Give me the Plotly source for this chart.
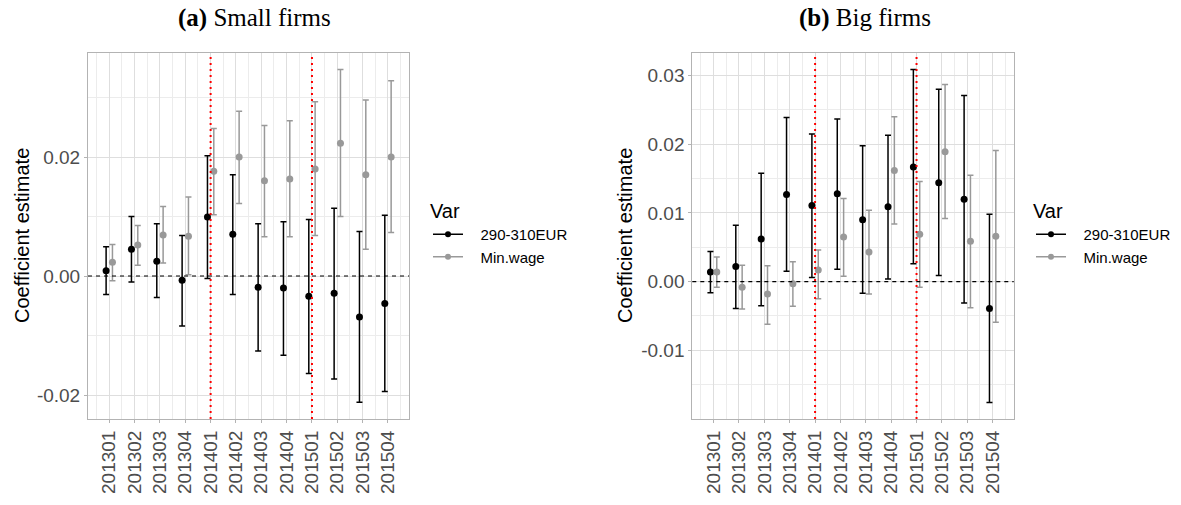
import plotly.graph_objects as go
import numpy as np

quarters = ["201301", "201302", "201303", "201304", "201401", "201402",
            "201403", "201404", "201501", "201502", "201503", "201504"]
series_names = ["290-310EUR", "Min.wage"]

# Panel (a) Small firms
small_eur_est = [0.0009, 0.0045, 0.0025, -0.0007, 0.0099, 0.0070, -0.0019, -0.0020, -0.0034, -0.0029, -0.0069, -0.0046]
small_eur_hi = [0.0049, 0.0100, 0.0088, 0.0068, 0.0202, 0.0170, 0.0088, 0.0091, 0.0095, 0.0114, 0.0075, 0.0102]
small_eur_lo = [-0.0031, -0.0010, -0.0036, -0.0084, -0.0004, -0.0031, -0.0126, -0.0133, -0.0164, -0.0173, -0.0212, -0.0194]
small_mw_est = [0.0023, 0.0052, 0.0069, 0.0067, 0.0176, 0.0200, 0.0160, 0.0163, 0.0180, 0.0223, 0.0170, 0.0200]
small_mw_hi = [0.0053, 0.0085, 0.0117, 0.0133, 0.0248, 0.0277, 0.0253, 0.0261, 0.0293, 0.0347, 0.0296, 0.0328]
small_mw_lo = [-0.0008, 0.0018, 0.0022, 0.0002, 0.0103, 0.0122, 0.0066, 0.0066, 0.0068, 0.0100, 0.0045, 0.0073]

# Panel (b) Big firms
big_eur_est = [0.0014, 0.0022, 0.0062, 0.0127, 0.0111, 0.0128, 0.0090, 0.0109, 0.0167, 0.0144, 0.0120, -0.0039]
big_eur_hi = [0.0044, 0.0082, 0.0158, 0.0239, 0.0215, 0.0237, 0.0198, 0.0213, 0.0309, 0.0280, 0.0271, 0.0098]
big_eur_lo = [-0.0016, -0.0039, -0.0035, 0.0015, 0.0006, 0.0018, -0.0017, 0.0004, 0.0026, 0.0009, -0.0031, -0.0176]
big_mw_est = [0.0014, -0.0008, -0.0018, -0.0003, 0.0017, 0.0065, 0.0043, 0.0162, 0.0069, 0.0189, 0.0059, 0.0066]
big_mw_hi = [0.0036, 0.0024, 0.0023, 0.0029, 0.0046, 0.0121, 0.0104, 0.0240, 0.0146, 0.0287, 0.0155, 0.0191]
big_mw_lo = [-0.0008, -0.0040, -0.0062, -0.0036, -0.0025, 0.0008, -0.0018, 0.0084, -0.0008, 0.0092, -0.0038, -0.0059]

break_quarters = ["201401", "201501"]

W, H = 1181, 505
BLACK = "#000000"
GREY = "#999999"
DODGE = 0.125
pos = np.arange(1, len(quarters) + 1)
PAD = "\u00a0\u00a0\u00a0"

fig = go.Figure()

panels = [
    ("x", "y", "legend", [(small_eur_est, small_eur_hi, small_eur_lo), (small_mw_est, small_mw_hi, small_mw_lo)]),
    ("x2", "y2", "legend2", [(big_eur_est, big_eur_hi, big_eur_lo), (big_mw_est, big_mw_hi, big_mw_lo)]),
]

for xa, ya, leg, data in panels:
    for (est, hi, lo), name, col, off in zip(data, series_names, [BLACK, GREY], [-DODGE, DODGE]):
        est = np.array(est); hi = np.array(hi); lo = np.array(lo)
        fig.add_trace(go.Scatter(
            x=pos + off, y=est, mode="markers", xaxis=xa, yaxis=ya,
            marker=dict(color=col, size=7),
            error_y=dict(type="data", symmetric=False, array=hi - est, arrayminus=est - lo,
                         color=col, thickness=1.5, width=3),
            showlegend=False, hoverinfo="skip"))
        # legend-only entry
        fig.add_trace(go.Scatter(
            x=[None], y=[None], mode="lines+markers", xaxis=xa, yaxis=ya, name=PAD + name,
            line=dict(color=col, width=1.5), marker=dict(color=col, size=6),
            legend=leg, showlegend=True))

def px_x(v):
    return v / W

def px_y(v):
    return 1 - v / H

axis_common = dict(
    showline=True, linecolor="#b3b3b3", linewidth=1, mirror=True,
    gridcolor="#dedede", gridwidth=1, zeroline=False, automargin=False,
    ticks="outside", ticklen=3, tickcolor="#b3b3b3",
    tickfont=dict(family="Liberation Sans, Arial", size=19, color="#4d4d4d"),
)

legend_common = dict(
    xanchor="left", yanchor="top",
    title=dict(text="Var", font=dict(family="Liberation Sans, Arial", size=20, color="black")),
    font=dict(family="Liberation Sans, Arial", size=15, color="black"),
    bgcolor="rgba(0,0,0,0)", tracegroupgap=0,
)

xr = [0.16, 12.83]
fig.update_layout(
    width=W, height=H, margin=dict(l=0, r=0, t=0, b=0, autoexpand=False),
    paper_bgcolor="white", plot_bgcolor="white",
    xaxis=dict(domain=[px_x(88), px_x(409)], range=xr, tickmode="array", tickvals=list(pos),
               ticktext=quarters, tickangle=-90, anchor="y",
               minor=dict(dtick=0.5, tick0=0.5, showgrid=True, gridcolor="#ececec", ticks=""),
               **axis_common),
    yaxis=dict(domain=[px_y(419), px_y(53)], range=[-0.02403, 0.03748], tickmode="array",
               tickvals=[-0.02, 0.0, 0.02], ticktext=["-0.02", "0.00", "0.02"], anchor="x",
               minor=dict(dtick=0.01, tick0=0, showgrid=True, gridcolor="#ececec", ticks=""),
               **axis_common),
    xaxis2=dict(domain=[px_x(692.3), px_x(1013.7)], range=xr, tickmode="array", tickvals=list(pos),
                ticktext=quarters, tickangle=-90, anchor="y2",
                minor=dict(dtick=0.5, tick0=0.5, showgrid=True, gridcolor="#ececec", ticks=""),
                **axis_common),
    yaxis2=dict(domain=[px_y(419), px_y(53.3)], range=[-0.02, 0.03325], tickmode="array",
                tickvals=[-0.01, 0.0, 0.01, 0.02, 0.03], ticktext=["-0.01", "0.00", "0.01", "0.02", "0.03"],
                anchor="x2",
                minor=dict(dtick=0.005, tick0=0, showgrid=True, gridcolor="#ececec", ticks=""),
                **axis_common),
    legend=dict(x=px_x(428), y=px_y(192), **legend_common),
    legend2=dict(x=px_x(1031), y=px_y(192), **legend_common),
)

# reference lines
for xa, ya in [("x", "y"), ("x2", "y2")]:
    fig.add_shape(type="line", xref=f"{xa} domain", yref=ya, x0=0, x1=1, y0=0, y1=0,
                  line=dict(color="black", width=1.2, dash="4px,4px"), layer="above")
    for q in break_quarters:
        xv = quarters.index(q) + 1
        fig.add_shape(type="line", xref=xa, yref=f"{ya} domain", x0=xv, x1=xv, y0=0, y1=1,
                      line=dict(color="red", width=2, dash="2px,4px"), layer="above")

# titles and axis titles
fig.add_annotation(x=px_x(254), y=px_y(18), xref="paper", yref="paper", showarrow=False,
                   xanchor="center", yanchor="middle",
                   text="<b>(a)</b> Small firms", font=dict(family="Liberation Serif, serif", size=25, color="black"))
fig.add_annotation(x=px_x(865), y=px_y(18), xref="paper", yref="paper", showarrow=False,
                   xanchor="center", yanchor="middle",
                   text="<b>(b)</b> Big firms", font=dict(family="Liberation Serif, serif", size=25, color="black"))
for xp in [22, 625]:
    fig.add_annotation(x=px_x(xp), y=px_y(236), xref="paper", yref="paper", showarrow=False,
                       xanchor="center", yanchor="middle",
                       text="Coefficient estimate", textangle=-90,
                       font=dict(family="Liberation Sans, Arial", size=20, color="black"))

fig.write_html("out.html", config={"displayModeBar": False},
               post_script="document.body.style.margin='0px';document.body.style.padding='0px';")
